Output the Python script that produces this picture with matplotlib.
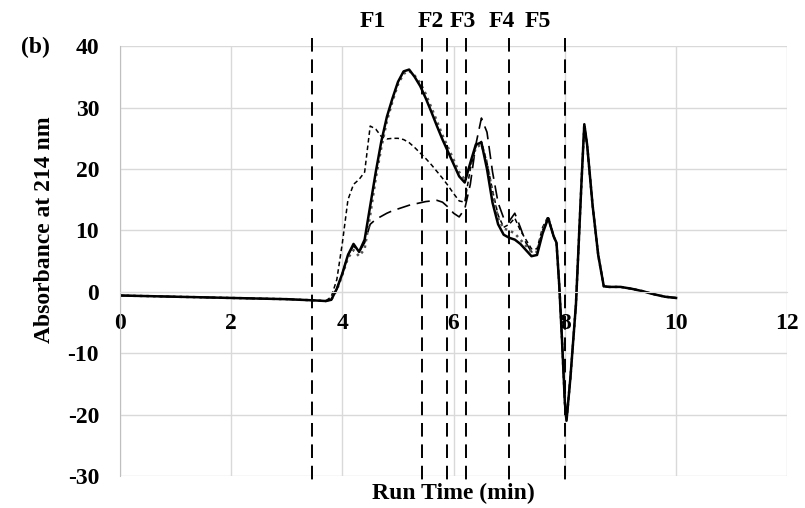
import numpy as np
import matplotlib.pyplot as plt

plt.rcParams['font.family'] = ['Liberation Serif', 'DejaVu Serif']
plt.rcParams['font.weight'] = 'bold'
plt.rcParams['axes.unicode_minus'] = False

# run time (min)
t = [0, 1, 2, 3, 3.5, 3.7, 3.8, 3.9, 4.0, 4.1, 4.2, 4.3, 4.4, 4.5, 4.6, 4.7, 4.8,
     4.9, 5.0, 5.1, 5.2, 5.3, 5.4, 5.5, 5.6, 5.7, 5.8, 5.9, 6.0, 6.1, 6.2, 6.3,
     6.4, 6.5, 6.6, 6.7, 6.8, 6.9, 7.0, 7.1, 7.2, 7.3, 7.4, 7.5, 7.6, 7.7, 7.8,
     7.85, 7.9, 7.95, 8.0, 8.03, 8.1, 8.15, 8.2, 8.25, 8.3, 8.35, 8.4, 8.45, 8.5,
     8.6, 8.7, 8.8, 9.0, 9.2, 9.4, 9.6, 9.8, 10.0]

tail = [9.0, 8.0, 1.0, -8.0, -18.0, -21.0, -14.0, -8.0, -2.0, 8.0, 18.0, 27.3,
        24.0, 19.0, 14.0, 6.0, 0.9, 0.8, 0.8, 0.5, 0.1, -0.4, -0.8, -1.0]

solid = [-0.6, -0.8, -1.0, -1.2, -1.4, -1.5, -1.3, 0.5, 3.0, 6.0, 7.8, 6.5, 8.5,
         14.0, 19.5, 24.5, 28.5, 31.5, 34.2, 35.9, 36.2, 35.0, 33.5, 31.5, 29.3,
         27.0, 24.8, 22.8, 20.8, 18.8, 17.8, 21.0, 24.0, 24.3, 20.0, 14.5, 11.0,
         9.3, 8.8, 8.5, 7.8, 6.8, 5.8, 6.0, 9.5, 12.0] + tail
dotted = [-0.6, -0.8, -1.0, -1.2, -1.4, -1.5, -1.3, 0.3, 2.8, 5.5, 6.8, 5.8, 7.0,
          12.5, 18.5, 23.5, 27.8, 31.0, 33.8, 35.5, 36.0, 35.2, 34.0, 32.2, 30.0,
          27.8, 25.5, 23.5, 21.5, 19.5, 18.3, 20.5, 23.5, 24.0, 21.0, 16.0, 12.0,
          10.3, 10.0, 9.5, 8.5, 7.5, 6.5, 6.5, 10.0, 12.2] + tail
short_dash = [-0.6, -0.8, -1.0, -1.2, -1.4, -1.5, -0.8, 2.0, 8.0, 15.0, 17.5,
              18.3, 19.5, 27.0, 26.5, 25.3, 24.9, 25.0, 25.0, 24.8, 24.3, 23.5,
              22.6, 21.7, 20.7, 19.6, 18.5, 17.3, 16.0, 14.8, 14.6, 20.0, 23.8,
              24.5, 21.0, 16.5, 12.5, 10.5, 11.0, 12.0, 10.0, 8.5, 7.0, 7.0, 10.5,
              12.3] + tail
long_dash = [-0.6, -0.8, -1.0, -1.2, -1.4, -1.5, -1.3, 0.5, 3.0, 6.0, 7.5, 6.5,
             8.0, 11.0, 11.8, 12.3, 12.8, 13.2, 13.5, 13.8, 14.1, 14.3, 14.5, 14.7,
             14.8, 14.9, 14.6, 13.8, 12.8, 12.2, 13.5, 17.5, 24.0, 28.3, 26.0,
             19.5, 14.5, 12.0, 11.5, 12.8, 10.5, 8.0, 6.5, 6.5, 10.0, 12.0] + tail

# fraction cut points and labels
cuts = [3.45, 5.43, 5.88, 6.22, 7.0, 8.0]
frac_labels = ['F1', 'F2', 'F3', 'F4', 'F5']
frac_pos = [4.55, 5.58, 6.17, 6.87, 7.52]

fig = plt.figure(figsize=(8.05, 5.08), dpi=100)
ax = fig.add_axes([0.149, 0.063, 0.829, 0.846])

ax.plot(t, long_dash, color='black', lw=1.2, dashes=(8, 4))
ax.plot(t, short_dash, color='black', lw=1.1, dashes=(3, 2))
ax.plot(t, dotted, color='#555555', lw=1.8, linestyle=':')
ax.plot(t, solid, color='black', lw=1.8)

for c in cuts:
    ax.plot([c, c], [41.3, -31.0], color='black', lw=1.4, dashes=(7, 4), clip_on=False)

for lab, x in zip(frac_labels, frac_pos):
    ax.text(x, 44.0, lab, ha='center', va='center', fontsize=17, fontweight='bold')

ax.set_xlim(0, 12)
ax.set_ylim(-30, 40)
ax.set_xticks(range(0, 13, 2))
ax.set_yticks(range(-30, 41, 10))
ax.grid(True, color='#d9d9d9', lw=1)
ax.set_axisbelow(True)
ax.spines['bottom'].set_position(('data', 0))
ax.spines['bottom'].set_color('#d9d9d9')
ax.spines['left'].set_color('#bfbfbf')
ax.spines['top'].set_visible(False)
ax.spines['right'].set_visible(False)
ax.tick_params(axis='x', length=0, labelsize=17, pad=15)
ax.tick_params(axis='y', length=0, labelsize=17, pad=15)
for lb in ax.get_xticklabels() + ax.get_yticklabels():
    lb.set_fontweight('bold')

fig.text(45 / 805, 1 - 230 / 508, 'Absorbance at 214 nm', rotation=90, ha='center', va='center',
         fontsize=17, fontweight='bold')
fig.text(453 / 805, 1 - 493 / 508, 'Run Time (min)', ha='center', va='center', fontsize=17, fontweight='bold')
fig.text(35 / 805, 1 - 47 / 508, '(b)', ha='center', va='center', fontsize=17, fontweight='bold')

fig.savefig('out.png', dpi=100)
